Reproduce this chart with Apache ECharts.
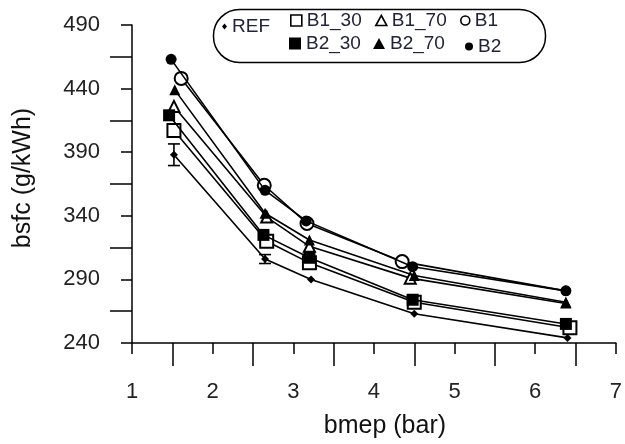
<!DOCTYPE html>
<html>
<head>
<meta charset="utf-8">
<script src="https://cdn.jsdelivr.net/npm/echarts@6/dist/echarts.min.js"></script>
<style>html,body{margin:0;padding:0;background:#fff}#c{width:625px;height:444px}</style>
</head>
<body>
<div id="c"></div>
<script>
// x = bmep (bar), y = bsfc (g/kWh)
const xREF  = [1.52, 2.65, 3.22, 4.50, 6.40];
const yREF  = [388, 306, 290, 263, 244];
const errREF = [8.5, 3.5, 0, 0, 0];
const xB1_30 = [1.52, 2.67, 3.20, 4.50, 6.43];
const yB1_30 = [407, 320, 303, 272, 252];
const xB1_70 = [1.52, 2.67, 3.20, 4.45, 6.38];
const yB1_70 = [426, 339, 316, 291, 271];
const xB1    = [1.61, 2.64, 3.17, 4.35, 6.38];
const yB1    = [448, 364, 334, 304, 281];
const xB2_30 = [1.46, 2.63, 3.20, 4.48, 6.38];
const yB2_30 = [419, 325, 307, 274, 255];
const xB2_70 = [1.53, 2.65, 3.20, 4.50, 6.38];
const yB2_70 = [439, 342, 321, 293, 272];
const xB2    = [1.485, 2.65, 3.16, 4.48, 6.38];
const yB2    = [463, 360, 336, 300, 281];
const yTicks = [240, 290, 340, 390, 440, 490];
const xTicks = [1, 2, 3, 4, 5, 6, 7];

const FONT = "'Liberation Sans', Arial, Helvetica, sans-serif";
const zip = (xs, ys) => xs.map((x, i) => [x, ys[i]]);

function lineSeries(name, xs, ys, symbol, size, filled, z, hideLast) {
  return {
    name, type: 'line', data: zip(xs, ys), symbol,
    symbolSize: hideLast ? function (v, p) { return p.dataIndex === xs.length - 1 ? 8 : size; } : size,
    z: z,
    lineStyle: { color: '#000', width: 1.6 },
    itemStyle: { color: filled ? '#000' : '#fff', borderColor: '#000', borderWidth: filled ? 0 : 2, opacity: 1 },
    emphasis: { disabled: true }, animation: false
  };
}

function legendItem(name, left, top, icon, w, h, filled) {
  return {
    data: [name], left, top, padding: 0, icon, itemWidth: w, itemHeight: h,
    selectedMode: false,
    itemStyle: { color: filled ? '#000' : '#fff', borderColor: '#000', borderWidth: filled ? 0 : 1.6 },
    lineStyle: { width: 0 },
    textStyle: { fontFamily: FONT, fontSize: 19, color: '#22223a' }
  };
}

const chart = echarts.init(document.getElementById('c'), null, { renderer: 'canvas' });
chart.setOption({
  animation: false,
  backgroundColor: '#fff',
  grid: { left: 132, right: 8, top: 25, bottom: 100 },
  xAxis: {
    type: 'value', min: xTicks[0], max: xTicks[xTicks.length - 1], interval: 1,
    name: 'bmep (bar)', nameLocation: 'middle', nameGap: 71,
    nameTextStyle: { fontFamily: FONT, fontSize: 25, color: '#111', padding: [0, 0, 0, 22] },
    axisLine: { lineStyle: { color: '#000', width: 1.5 } },
    axisTick: { show: true, length: 11, lineStyle: { color: '#000', width: 1.5 } },
    minorTick: { show: true, splitNumber: 2, length: 23, lineStyle: { color: '#000', width: 1.5 } },
    splitLine: { show: false }, minorSplitLine: { show: false },
    axisLabel: { fontFamily: FONT, fontSize: 22, color: '#222', margin: 38 }
  },
  yAxis: {
    type: 'value', min: yTicks[0], max: yTicks[yTicks.length - 1], interval: 50,
    name: 'bsfc (g/kWh)', nameLocation: 'middle', nameGap: 96, nameRotate: 90,
    nameTextStyle: { fontFamily: FONT, fontSize: 25, color: '#111', padding: [0, 0, 0, 12] },
    axisLine: { show: true, lineStyle: { color: '#000', width: 1.5 } },
    axisTick: { show: true, length: 11, lineStyle: { color: '#000', width: 1.5 } },
    minorTick: { show: true, splitNumber: 2, length: 22, lineStyle: { color: '#000', width: 1.5 } },
    splitLine: { show: false }, minorSplitLine: { show: false },
    axisLabel: { fontFamily: FONT, fontSize: 22, color: '#222', margin: 32 }
  },
  legend: [
    legendItem('REF', 222, 17, 'diamond', 5, 6, true),
    legendItem('B1_30', 290, 11, 'rect', 11, 11, false),
    legendItem('B1_70', 375, 11, 'triangle', 11, 10, false),
    legendItem('B1', 460, 11, 'circle', 9, 9, false),
    legendItem('B2_30', 289, 34, 'rect', 12, 12, true),
    legendItem('B2_70', 373, 34, 'triangle', 12, 11, true),
    legendItem('B2', 465, 37, 'circle', 8, 8, true)
  ],
  graphic: [{
    type: 'rect', left: 211, top: 7, z: -1,
    shape: { width: 332, height: 53, r: 26 },
    style: { fill: 'none', stroke: '#000', lineWidth: 1.5 }
  }],
  series: [
    {
      name: 'REF_err', type: 'custom', z: 3,
      data: xREF.map((x, i) => [x, yREF[i], errREF[i]]),
      renderItem: function (params, api) {
        const x = api.value(0), y = api.value(1), e = api.value(2);
        if (!e) return null;
        const top = api.coord([x, y + e]);
        const bot = api.coord([x, y - e]);
        const hw = 6;
        const st = { stroke: '#000', lineWidth: 1.6 };
        return {
          type: 'group', children: [
            { type: 'line', shape: { x1: top[0], y1: top[1], x2: bot[0], y2: bot[1] }, style: st },
            { type: 'line', shape: { x1: top[0] - hw, y1: top[1], x2: top[0] + hw, y2: top[1] }, style: st },
            { type: 'line', shape: { x1: bot[0] - hw, y1: bot[1], x2: bot[0] + hw, y2: bot[1] }, style: st }
          ]
        };
      },
      silent: true, animation: false
    },
    lineSeries('REF', xREF, yREF, 'diamond', 8, true, 4),
    lineSeries('B1_30', xB1_30, yB1_30, 'rect', 13, false, 4),
    lineSeries('B1_70', xB1_70, yB1_70, 'triangle', 11, false, 4, true),
    lineSeries('B1', xB1, yB1, 'circle', 13, false, 4, true),
    lineSeries('B2_30', xB2_30, yB2_30, 'rect', 12, true, 5),
    lineSeries('B2_70', xB2_70, yB2_70, 'triangle', 11, true, 5),
    lineSeries('B2', xB2, yB2, 'circle', 11, true, 5)
  ]
});
</script>
</body>
</html>
